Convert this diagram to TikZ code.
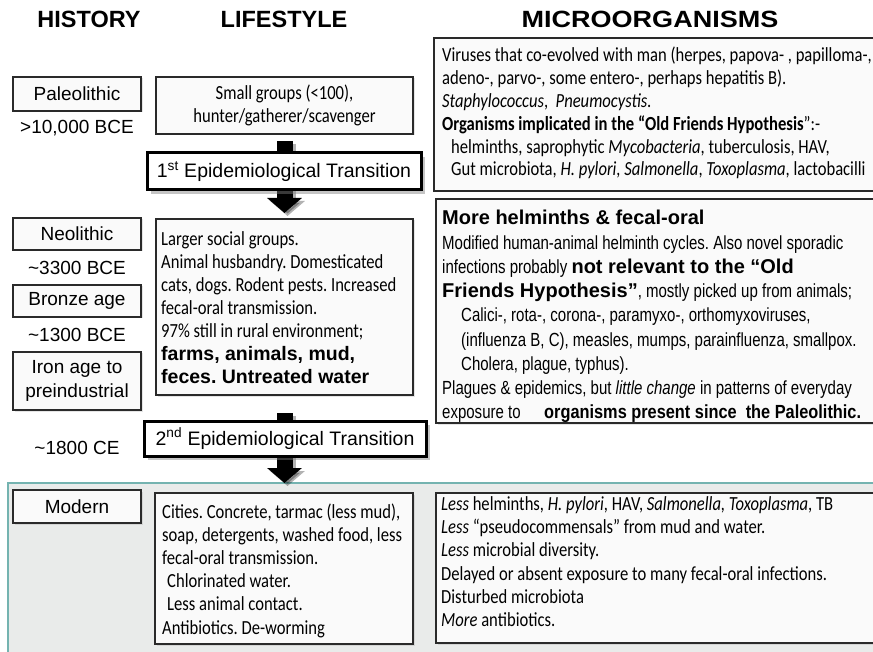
\documentclass[tikz,border=0pt]{standalone}
\usepackage{fontspec}
\setmainfont{Liberation Sans}
\newfontfamily\arialfont{Liberation Sans}
\newfontfamily\widefont[FakeStretch=1.15]{Liberation Sans}
\newfontfamily\calfont[FakeStretch=0.83]{Carlito}
\newfontfamily\narrowfont[FakeStretch=0.79]{Liberation Sans}
\newfontfamily\semifont[FakeStretch=0.86]{Liberation Sans}
\usetikzlibrary{arrows.meta,shadows,calc}
\definecolor{boxline}{HTML}{2A2A2A}
\definecolor{boxfill}{HTML}{FAFAFA}
\definecolor{regfill}{HTML}{E9EBEA}
\definecolor{regline}{HTML}{74B3B0}
\begin{document}
\frenchspacing
\begin{tikzpicture}[x=1pt,y=-1pt,
  hdr/.style={font=\arialfont\bfseries\fontsize{23.5}{26}\selectfont, inner sep=0pt},
  hist/.style={draw=boxline, fill=boxfill, line width=1.2pt, inner sep=0pt, outer sep=0pt, anchor=north west, font=\arialfont\fontsize{19}{23.5}\selectfont, align=center,
    drop shadow={opacity=0.2, shadow xshift=1.5pt, shadow yshift=-1.5pt}},
  datelbl/.style={font=\arialfont\fontsize{19}{23}\selectfont, inner sep=0pt},
  tbox/.style={draw=boxline, fill=boxfill, line width=1.2pt, anchor=north west, inner sep=0pt, outer sep=0pt,
    drop shadow={opacity=0.2, shadow xshift=1.5pt, shadow yshift=-1.5pt}},
  ln/.style={anchor=base west, inner sep=0pt},
  calln/.style={ln, font=\calfont\fontsize{20}{24}\selectfont},
  narln/.style={ln, font=\narrowfont\fontsize{19}{24}\selectfont},
  boldln/.style={ln, font=\arialfont\bfseries\fontsize{20}{24}\selectfont},
  trans/.style={draw=black, fill=white, line width=3pt, anchor=north west, inner sep=0pt, outer sep=0pt,
    font=\arialfont\fontsize{19.5}{23}\selectfont,
    drop shadow={opacity=0.45, shadow xshift=4pt, shadow yshift=-4pt}},
  bigarrow/.style={draw=black, line width=16pt, -{Triangle[length=15pt,width=34pt]}},
  arrowshadow/.style={draw=black, opacity=0.3, line width=16pt, -{Triangle[length=15pt,width=34pt]}},
]
\useasboundingbox (0,0) rectangle (873,652);
\fill[white] (0,0) rectangle (873,652);

% headers
\node[hdr] (hhist) at (89,19) {HISTORY};
\node[hdr] (hlife) at (284,19) {LIFESTYLE};
\node[hdr, font=\widefont\bfseries\fontsize{23.5}{26}\selectfont] (hmicro) at (650,19) {MICROORGANISMS};

% modern region
\node[draw=none, fill=regfill, anchor=north west, minimum width=880pt, minimum height=180pt, inner sep=0pt] (region) at (8,483) {};
\draw[regline, line width=1.2pt] (region.south west) -- (region.north west) -- (region.north east);

% history column
\node[hist, minimum width=128pt, minimum height=34pt] (paleo) at (13,77) {Paleolithic};
\node[datelbl] (d1) at (77,128) {>10,000 BCE};
\node[hist, minimum width=128pt, minimum height=32pt] (neo) at (13,218) {Neolithic};
\node[datelbl] (d2) at (77,268) {\textasciitilde3300 BCE};
\node[hist, minimum width=128pt, minimum height=32pt] (bronze) at (13,285) {Bronze age};
\node[datelbl] (d3) at (77,335) {\textasciitilde1300 BCE};
\node[hist, minimum width=128pt, minimum height=58pt] (iron) at (13,352) {Iron age to\\preindustrial};
\node[datelbl] (d4) at (77,448) {\textasciitilde1800 CE};
\node[hist, minimum width=128pt, minimum height=33pt] (modern) at (13,490) {Modern};

% lifestyle column
\node[tbox, minimum width=257pt, minimum height=57pt] (ls1) at (156,77) {};
\node[inner sep=0pt, align=center, font=\calfont\fontsize{20}{23.5}\selectfont] (ls1t) at (ls1.center) {Small groups (<100),\\hunter/gatherer/scavenger};

\node[tbox, minimum width=257pt, minimum height=176pt] (ls2) at (156,219) {};
\foreach \t [count=\i] in {{Larger social groups.},{Animal husbandry. Domesticated},{cats, dogs. Rodent pests. Increased},{fecal-oral transmission.},{97\% still in rural environment;}}
  \node[calln] (ls2-\i) at (161,{246+22.9*(\i-1)}) {\t};
\node[boldln, font=\arialfont\bfseries\fontsize{19.5}{24}\selectfont] (ls2-6) at (161,{246+22.9*5}) {farms, animals, mud,};
\node[boldln, font=\arialfont\bfseries\fontsize{19.5}{24}\selectfont] (ls2-7) at (161,{246+22.9*6}) {feces. Untreated water};

\node[tbox, minimum width=258pt, minimum height=151pt] (ls3) at (155,493) {};
\foreach \t [count=\i] in {{Cities. Concrete, tarmac (less mud),},{soap, detergents, washed food, less},{fecal-oral transmission.},{\hspace*{5pt}Chlorinated water.},{\hspace*{5pt}Less animal contact.},{Antibiotics. De-worming}}
  \node[calln] (ls3-\i) at (162,{518+23.2*(\i-1)}) {\t};

% microorganisms column
\node[tbox, minimum width=446pt, minimum height=153pt] (mc1) at (434,38) {};
\foreach \t [count=\i] in {{Viruses that co-evolved with man (herpes, papova- , papilloma-,},{adeno-, parvo-, some entero-, perhaps hepatitis B).},{\textit{Staphylococcus},\ \ \textit{Pneumocystis}.},{\textbf{Organisms implicated in the “Old Friends Hypothesis}”:-},{\hspace*{9pt}helminths, saprophytic \textit{Mycobacteria}, tuberculosis, HAV,},{\hspace*{9pt}Gut microbiota, \textit{H. pylori, Salmonella}, \textit{Toxoplasma}, lactobacilli}}
  \node[calln] (mc1-\i) at (442,{62+22.8*(\i-1)}) {\t};

\node[tbox, minimum width=444pt, minimum height=224pt] (mc2) at (436,199) {};
\node[boldln] (mc2-1) at (442,225) {More helminths \& fecal-oral};
\node[narln] (mc2-2) at (442,{225+24.2}) {Modified human-animal helminth cycles. Also novel sporadic};
\node[narln] (mc2-3) at (442,{225+24.2*2}) {infections probably {\arialfont\bfseries\fontsize{20}{24}\selectfont not relevant to the “Old}};
\node[narln] (mc2-4) at (442,{225+24.2*3}) {{\arialfont\bfseries\fontsize{20}{24}\selectfont Friends Hypothesis”}, mostly picked up from animals;};
\foreach \t [count=\i from 5] in {{Calici-, rota-, corona-, paramyxo-, orthomyxoviruses,},{(influenza B, C), measles, mumps, parainfluenza, smallpox.},{Cholera, plague, typhus).}}
  \node[narln] (mc2-\i) at (461,{225+24.2*(\i-1)}) {\t};
\node[narln] (mc2-8) at (442,{225+24.2*7}) {Plagues \& epidemics, but \textit{little change} in patterns of everyday};
\node[narln] (mc2-9) at (442,{225+24.2*8}) {exposure to};
\node[narln, font=\semifont\bfseries\fontsize{19}{24}\selectfont] (mc2-10) at (544,{225+24.2*8}) {organisms present since\ \ the Paleolithic.};

\node[tbox, minimum width=444pt, minimum height=150pt] (mc3) at (436,493) {};
\foreach \t [count=\i] in {{\textit{Less} helminths, \textit{H. pylori}, HAV, \textit{Salmonella, Toxoplasma}, TB},{\textit{Less} “pseudocommensals” from mud and water.},{\textit{Less} microbial diversity.},{Delayed or absent exposure to many fecal-oral infections.},{Disturbed microbiota},{\textit{More} antibiotics.}}
  \node[calln] (mc3-\i) at (441,{510.5+23.2*(\i-1)}) {\t};

% arrows
\draw[arrowshadow] ([xshift=3pt,yshift=-10pt]ls1.south) -- ([xshift=3pt,yshift=3pt]ls2.north);
\draw[bigarrow] ([yshift=-7pt]ls1.south) -- ([yshift=6pt]ls2.north);
\draw[arrowshadow] ([xshift=3pt,yshift=-21pt]ls2.south) -- ([xshift=3pt,yshift=-3pt]ls2.south |- region.north);
\draw[bigarrow] ([yshift=-18pt]ls2.south) -- (ls2.south |- region.north);

% transition boxes
\node[trans, minimum width=274pt, minimum height=37pt] (tr1) at (147,153) {1\textsuperscript{st} Epidemiological Transition};
\node[trans, minimum width=282pt, minimum height=35pt] (tr2) at (144,421) {2\textsuperscript{nd} Epidemiological Transition};
\end{tikzpicture}
\end{document}
